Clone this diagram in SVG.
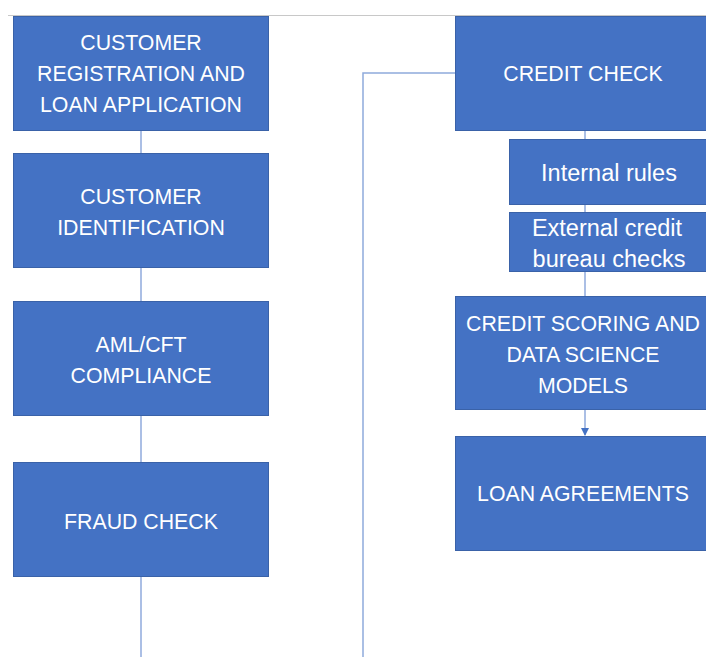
<svg xmlns="http://www.w3.org/2000/svg" width="706" height="657" viewBox="0 0 706 657">
<style>
.box{fill:#4472C4;stroke:#3A62A8;stroke-width:1}
.t{font-family:"Liberation Sans",Arial,sans-serif;font-size:21.3px;fill:#fff;text-anchor:middle;dominant-baseline:central}
.s{font-size:23.5px}
.c{fill:none;stroke:#8FAADC;stroke-width:1.5}
</style>
<defs>
<marker id="ah" markerWidth="8" markerHeight="8" refX="7" refY="4" orient="auto" markerUnits="userSpaceOnUse">
<path d="M0,0 L8,4 L0,8 Z" fill="#4472C4"/>
</marker>
</defs>
<rect width="706" height="657" fill="#fff"/>
<line x1="8" y1="15.5" x2="706" y2="15.5" stroke="#C8C8C8" stroke-width="1"/>
<g id="connectors">
<line class="c" x1="141" y1="130" x2="141" y2="657"/>
<polyline class="c" points="363,657 363,73 455,73"/>
<line class="c" x1="585" y1="130" x2="585" y2="435" marker-end="url(#ah)"/>
</g>
<g id="n1"><rect class="box" x="13.5" y="16.5" width="255" height="114"/>
<text class="t" x="141" y="43">CUSTOMER</text><text class="t" x="141" y="74">REGISTRATION AND</text><text class="t" x="141" y="105">LOAN APPLICATION</text></g>
<g id="n2"><rect class="box" x="13.5" y="153.5" width="255" height="114"/>
<text class="t" x="141" y="197">CUSTOMER</text><text class="t" x="141" y="228">IDENTIFICATION</text></g>
<g id="n3"><rect class="box" x="13.5" y="301.5" width="255" height="114"/>
<text class="t" x="141" y="345">AML/CFT</text><text class="t" x="141" y="376">COMPLIANCE</text></g>
<g id="n4"><rect class="box" x="13.5" y="462.5" width="255" height="114"/>
<text class="t" x="141" y="522">FRAUD CHECK</text></g>
<g id="n5"><rect class="box" x="455.5" y="16.5" width="260" height="114"/>
<text class="t" x="583" y="74">CREDIT CHECK</text></g>
<g id="n6"><rect class="box" x="509.5" y="139.5" width="210" height="65"/>
<text class="t s" x="609" y="173">Internal rules</text></g>
<g id="n7"><rect class="box" x="509.5" y="212.5" width="210" height="59"/>
<text class="t s" x="607" y="228">External credit</text><text class="t s" x="609" y="259">bureau checks</text></g>
<g id="n8"><rect class="box" x="455.5" y="296.5" width="260" height="113"/>
<text class="t" x="583" y="324">CREDIT SCORING AND</text><text class="t" x="583" y="355">DATA SCIENCE</text><text class="t" x="583" y="386">MODELS</text></g>
<g id="n9"><rect class="box" x="455.5" y="436.5" width="260" height="114"/>
<text class="t" x="583" y="494">LOAN AGREEMENTS</text></g>
</svg>
